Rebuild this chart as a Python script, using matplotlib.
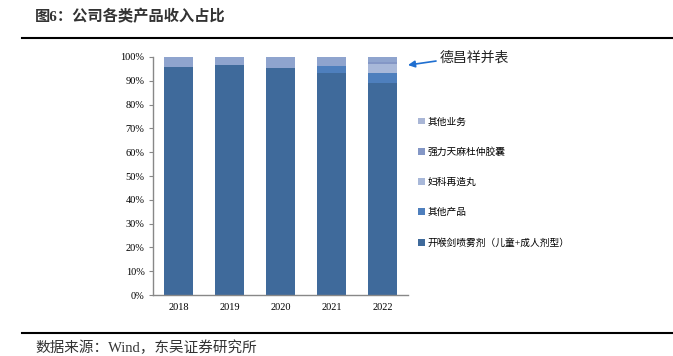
import matplotlib
matplotlib.use("Agg")
import matplotlib.pyplot as plt
import numpy as np
from matplotlib.patches import Patch

# DATA (percent of revenue)
years = ["2018", "2019", "2020", "2021", "2022"]
kaihoujian = [95.9, 96.6, 95.2, 93.4, 89.0]
other_products = [0.0, 0.0, 0.0, 2.9, 4.4]
fuke_zaizao = [0.0, 0.0, 0.0, 0.0, 3.8]
tianma_duzhong = [0.0, 0.0, 0.0, 0.0, 0.9]
other_business = [4.1, 3.4, 4.8, 3.7, 1.9]

series_names = ["开喉剑喷雾剂（儿童+成人剂型）", "其他产品", "妇科再造丸", "强力天麻杜仲胶囊", "其他业务"]
series_vals = [kaihoujian, other_products, fuke_zaizao, tianma_duzhong, other_business]
colors = ["#3F6A9B", "#4E7FBD", "#A8B8D9", "#8497C6", "#8FA4CE"]
legend_colors = ["#3F6A9B", "#4E7FBD", "#A8B8D9", "#8497C6", "#A9B6D6"]

CJK = ["Liberation Serif", "Noto Sans CJK SC"]
SERIF = ["Liberation Serif", "DejaVu Serif"]

fig = plt.figure(figsize=(6.73, 3.56), dpi=100)
ax = fig.add_axes([0.2273, 0.1713, 0.3789, 0.6686])

x = np.arange(len(years))
bottom = np.zeros(len(years))
for vals, c in zip(series_vals, colors):
    ax.bar(x, vals, width=0.57, bottom=bottom, color=c, linewidth=0)
    bottom += np.array(vals)

ax.set_xlim(-0.5, len(years) - 0.5)
ax.set_ylim(0, 100)
ax.set_yticks(np.arange(0, 101, 10))
ax.set_yticklabels(["%d%%" % v for v in range(0, 101, 10)], fontsize=7.5, family=SERIF)
ax.set_xticks(x)
ax.set_xticklabels(years, fontsize=7.5, family=SERIF)
ax.tick_params(axis="x", length=0, pad=6)
ax.tick_params(axis="y", length=3, width=0.8, color="#888888", pad=3)
for s in ["top", "right"]:
    ax.spines[s].set_visible(False)
for s in ["left", "bottom"]:
    ax.spines[s].set_color("#888888")
    ax.spines[s].set_linewidth(1.0)

# legend (top to bottom order)
handles = [Patch(facecolor=c, edgecolor="none") for c in legend_colors[::-1]]
labels = series_names[::-1]
fig.legend(handles, labels, loc="upper left", bbox_to_anchor=(0.608, 0.695),
           frameon=False, prop={"family": CJK, "size": 7}, handlelength=0.7,
           handleheight=0.7, handletextpad=0.3, labelspacing=2.15)

# annotation
ax.annotate("", xy=(4.5, 96.6), xytext=(5.05, 98.3),
            xycoords="data", textcoords="data", annotation_clip=False,
            arrowprops=dict(arrowstyle="-|>", color="#1F6FD0", lw=1.2,
                            shrinkA=0, shrinkB=0, mutation_scale=10))
ax.text(5.13, 99.6, "德昌祥并表", fontsize=10, family=CJK, color="#222222",
        va="center", ha="left", clip_on=False)

# title and footer
fig.text(0.052, 0.955, "图6：公司各类产品收入占比", fontsize=11, fontweight="bold",
         family=CJK, color="#333333", va="center", ha="left")
fig.add_artist(plt.Line2D([0.033, 1.0], [0.893, 0.893], color="black", lw=1.5))
fig.add_artist(plt.Line2D([0.033, 1.0], [0.065, 0.065], color="black", lw=1.5))
fig.text(0.052, 0.022, "数据来源：Wind，东吴证券研究所", fontsize=10.5,
         family=CJK, color="#333333", va="center", ha="left")

fig.savefig("out.png", dpi=100)
